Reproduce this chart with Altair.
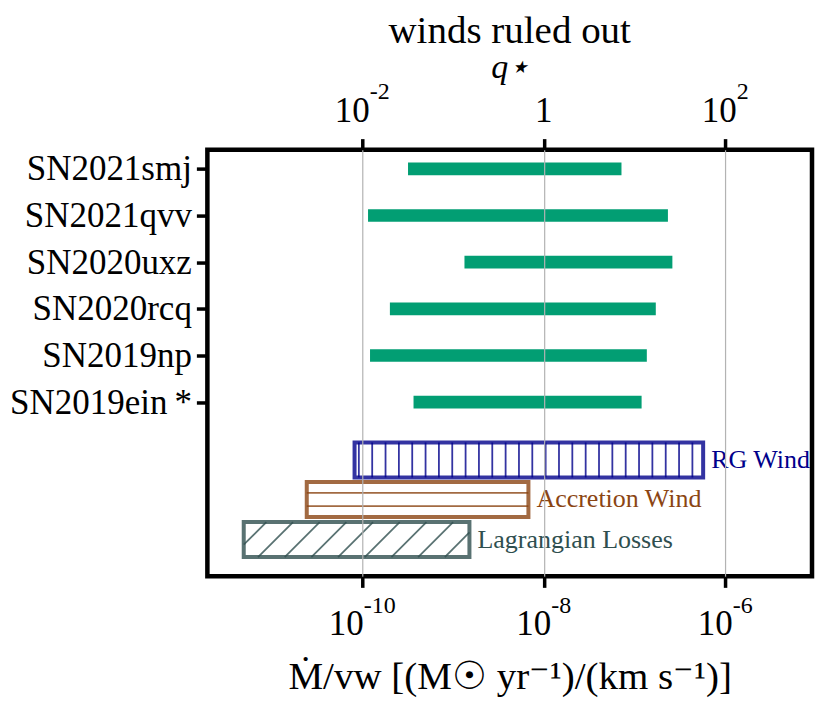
import json
import numpy as np
import pandas as pd
import altair as alt

# ---------------- data ----------------
SN_NAMES = ["SN2021smj", "SN2021qvv", "SN2020uxz", "SN2020rcq", "SN2019np", "SN2019ein\u2009*"]
SN_LOW = [3.2e-10, 1.16e-10, 1.34e-9, 2.02e-10, 1.22e-10, 3.68e-10]
SN_HIGH = [7.2e-8, 2.34e-7, 2.62e-7, 1.72e-7, 1.37e-7, 1.20e-7]

MODEL_NAMES = ["RG Wind", "Accretion Wind", "Lagrangian Losses"]
MODEL_LOW = [8.24e-11, 2.45e-11, 4.95e-12]
MODEL_HIGH = [5.72e-7, 6.79e-9, 1.52e-9]
MODEL_ROW = [6.238, 7.084, 7.944]
MODEL_HATCH = ["|", "-", "/"]
MODEL_COLORS = ["#00008b", "#8b4513", "#2f4f4f"]

BOTTOM_TICKS = [1e-10, 1e-8, 1e-6]
BOTTOM_BASE = ["10", "10", "10"]
BOTTOM_EXP = ["-10", "-8", "-6"]
Q_TICKS = [1e-2, 1.0, 1e2]
Q_BASE = ["10", "1", "10"]
Q_EXP = ["-2", "", "2"]
Q_PER_MDOT = 1e8  # q_star = (Mdot/v_w) * 1e8

# ---------------- layout ----------------
W, H = 605, 427
XLOG = [-11.706, -5.043]
YDOM = [-0.411, 8.732]
BAR_HALF = 0.136
BOX_HALF = 0.375
FONT = "Liberation Serif"
GREEN = "#029e73"
BASE_FS, EXP_FS = 35, 24

px_per_dec = W / (XLOG[1] - XLOG[0])
px_per_row = H / (YDOM[1] - YDOM[0])

bars = pd.DataFrame({
    "name": SN_NAMES, "lo": SN_LOW, "hi": SN_HIGH,
    "y": [i - BAR_HALF for i in range(len(SN_NAMES))],
    "y2": [i + BAR_HALF for i in range(len(SN_NAMES))],
})

boxes = pd.DataFrame({
    "name": MODEL_NAMES, "lo": MODEL_LOW, "hi": MODEL_HIGH, "row": MODEL_ROW,
    "y": [r - BOX_HALF for r in MODEL_ROW], "y2": [r + BOX_HALF for r in MODEL_ROW],
})

# hatch lines (decoration) derived from the box bounds
HATCH_SPACING_PX = 13.35
rows = []
for name, lo, hi, r, h in zip(MODEL_NAMES, MODEL_LOW, MODEL_HIGH, MODEL_ROW, MODEL_HATCH):
    u0, u1 = np.log10(lo) * px_per_dec, np.log10(hi) * px_per_dec
    v0, v1 = (r - BOX_HALF) * px_per_row, (r + BOX_HALF) * px_per_row
    if h == "|":
        for u in np.arange(u0 + 4.3, u1 - 2, HATCH_SPACING_PX):
            rows.append((name, u, v0, u, v1))
    elif h == "-":
        vc = (v0 + v1) / 2
        for v in (vc - HATCH_SPACING_PX / 2, vc + HATCH_SPACING_PX / 2):
            rows.append((name, u0, v, u1, v))
    else:
        hh = v1 - v0
        s = 2 * HATCH_SPACING_PX
        c = u0 + 14.3 - s * np.ceil(hh / s)
        while c < u1:
            t0, t1 = max(0.0, u0 - c), min(hh, u1 - c)
            if t1 > t0:
                rows.append((name, c + t0, v1 - t0, c + t1, v1 - t1))
            c += s
hatch = pd.DataFrame(rows, columns=["name", "ua", "va", "ub", "vb"])
hatch["xa"] = 10 ** (hatch["ua"] / px_per_dec)
hatch["xb"] = 10 ** (hatch["ub"] / px_per_dec)
hatch["ya"] = hatch["va"] / px_per_row
hatch["yb"] = hatch["vb"] / px_per_row


# tick labels "10^exp": base right-aligned and exponent left-aligned at a junction
def text_w(s, fs):
    return sum((0.333 if ch == "-" else 0.5) for ch in s) * fs


def tick_labels(ticks, bases, exps):
    out = []
    for t, b, e in zip(ticks, bases, exps):
        bw, ew = text_w(b, BASE_FS), text_w(e, EXP_FS)
        shift = (bw - ew) / 2
        out.append({"junction": t * 10 ** (shift / px_per_dec), "base": b, "exp": e})
    return pd.DataFrame(out)


bottom_lbl = tick_labels(BOTTOM_TICKS, BOTTOM_BASE, BOTTOM_EXP)
top_lbl = tick_labels([q / Q_PER_MDOT for q in Q_TICKS], Q_BASE, Q_EXP)

# ---------------- scales / axes ----------------
xscale = alt.Scale(type="log", domain=[10 ** XLOG[0], 10 ** XLOG[1]], nice=False)
yscale = alt.Scale(domain=YDOM, reverse=True, nice=False, zero=False)
model_color = alt.Scale(domain=MODEL_NAMES, range=MODEL_COLORS)

bottom_axis = alt.Axis(
    values=BOTTOM_TICKS, orient="bottom", labels=False,
    title="Ṁ/vw [(M☉ yr⁻¹)/(km s⁻¹)]", titleFontSize=39, titlePadding=68,
    grid=True, gridColor="#b3b3b3", gridWidth=1.2, zindex=1,
)
top_axis = alt.Axis(
    values=[q / Q_PER_MDOT for q in Q_TICKS], orient="top", labels=False,
    title="q⋆", titleFontSize=34, titleFontStyle="italic", titlePadding=52,
    grid=False,
)
y_axis = alt.Axis(
    values=list(range(len(SN_NAMES))),
    labelExpr=json.dumps(SN_NAMES, ensure_ascii=False) + "[datum.value]",
    title=None, grid=False, labelFontSize=35, labelPadding=5, labelLimit=400,
)

bar_layer = alt.Chart(bars).mark_rect(color=GREEN).encode(
    x=alt.X("lo:Q", scale=xscale, axis=bottom_axis),
    x2="hi:Q",
    y=alt.Y("y:Q", scale=yscale, axis=y_axis),
    y2="y2:Q",
)

top_layer = alt.Chart(bars).mark_rect(opacity=0).encode(
    x=alt.X("lo:Q", scale=xscale, axis=top_axis),
    x2="hi:Q",
    y=alt.Y("y:Q", scale=yscale, axis=y_axis),
    y2="y2:Q",
)

hatch_layer = alt.Chart(hatch).mark_rule(strokeWidth=1.8, opacity=0.8).encode(
    x=alt.X("xa:Q", scale=xscale, axis=None), x2="xb:Q",
    y=alt.Y("ya:Q", scale=yscale, axis=y_axis), y2="yb:Q",
    stroke=alt.Stroke("name:N", scale=model_color, legend=None),
)

box_layer = alt.Chart(boxes).mark_rect(fillOpacity=0, strokeWidth=4, strokeOpacity=0.8).encode(
    x=alt.X("lo:Q", scale=xscale, axis=None), x2="hi:Q",
    y=alt.Y("y:Q", scale=yscale, axis=y_axis), y2="y2:Q",
    stroke=alt.Stroke("name:N", scale=model_color, legend=None),
)

label_layer = alt.Chart(boxes).mark_text(align="left", baseline="middle", dx=8, fontSize=26, font=FONT).encode(
    x=alt.X("hi:Q", scale=xscale, axis=None),
    y=alt.Y("row:Q", scale=yscale, axis=y_axis),
    color=alt.Color("name:N", scale=model_color, legend=None),
    text="name:N",
)


def tick_text(df, base_y, exp_y):
    base = alt.Chart(df).mark_text(align="right", baseline="alphabetic", fontSize=BASE_FS,
                                   font=FONT, color="black", clip=False).encode(
        x=alt.X("junction:Q", scale=xscale, axis=None),
        y=alt.value(base_y), text="base:N")
    exp = alt.Chart(df).mark_text(align="left", baseline="alphabetic", fontSize=EXP_FS,
                                  font=FONT, color="black", clip=False).encode(
        x=alt.X("junction:Q", scale=xscale, axis=None),
        y=alt.value(exp_y), text="exp:N")
    return [base, exp]


bottom_text = tick_text(bottom_lbl, 485.5, 464)
top_text = tick_text(top_lbl, -27.5, -51)

chart = alt.layer(
    bar_layer, hatch_layer, box_layer, label_layer, *bottom_text, *top_text, top_layer
).resolve_axis(x="independent").properties(
    width=W, height=H,
    autosize=alt.AutoSizeParams(type="none"),
    padding={"left": 199.5, "top": 141.5, "right": 10, "bottom": 128},
    title=alt.TitleParams("winds ruled out", fontSize=39, fontWeight="normal", font=FONT,
                          anchor="middle", offset=0, color="black"),
).configure(font=FONT).configure_view(
    stroke="black", strokeWidth=4.5
).configure_axis(
    domain=False, tickColor="black", tickWidth=3.5, tickSize=11,
    labelColor="black", titleColor="black", labelFont=FONT, titleFont=FONT,
    titleFontWeight="normal",
)

chart.save("out.html", embed_options={"renderer": "svg", "actions": False})
